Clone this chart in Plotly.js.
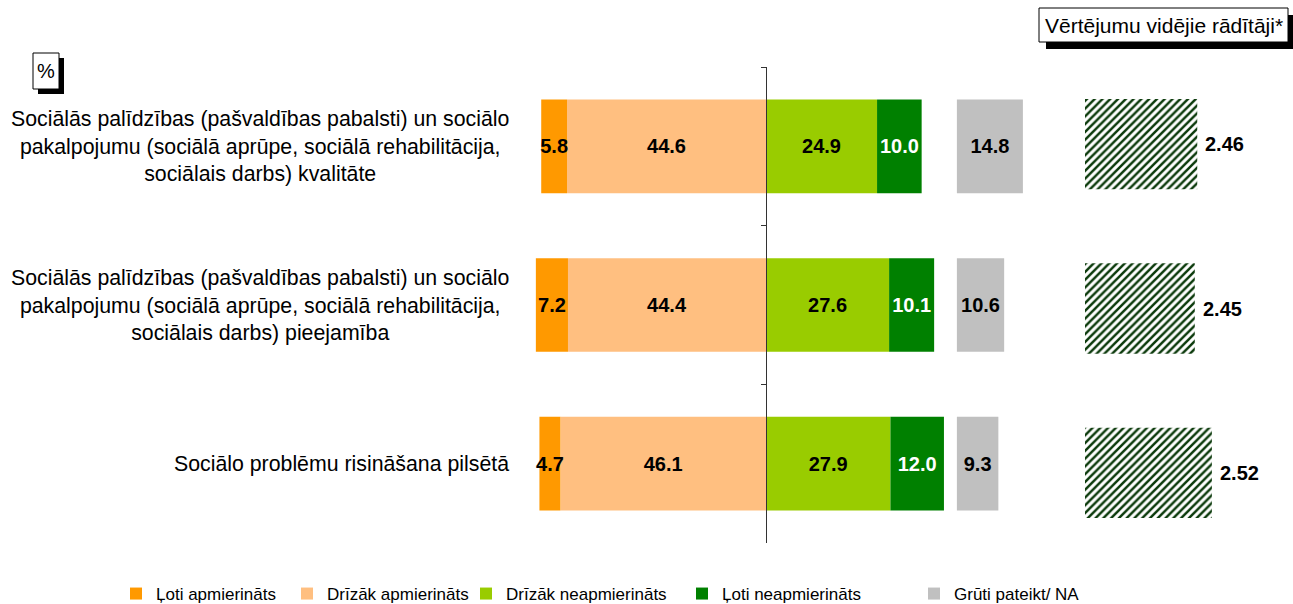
<!DOCTYPE html>
<html>
<head>
<meta charset="utf-8">
<script src="https://cdn.plot.ly/plotly-3.0.1.min.js"></script>
<style>html,body{margin:0;padding:0;background:#fff;}#chart{width:1293px;height:604px;}</style>
</head>
<body>
<div id="chart"></div>
<script>
// ---- data ----
const categories = [
  "Sociālās palīdzības (pašvaldības pabalsti) un sociālo<br>pakalpojumu (sociālā aprūpe, sociālā rehabilitācija,<br>sociālais darbs) kvalitāte",
  "Sociālās palīdzības (pašvaldības pabalsti) un sociālo<br>pakalpojumu (sociālā aprūpe, sociālā rehabilitācija,<br>sociālais darbs) pieejamība",
  "Sociālo problēmu risināšana pilsētā"
];
const seriesNames = ["Ļoti apmierināts", "Drīzāk apmierināts", "Drīzāk neapmierināts", "Ļoti neapmierināts", "Grūti pateikt/ NA"];
const lotiApmierinats = [5.8, 7.2, 4.7];
const drizakApmierinats = [44.6, 44.4, 46.1];
const drizakNeapmierinats = [24.9, 27.6, 27.9];
const lotiNeapmierinats = [10.0, 10.1, 12.0];
const grutiPateikt = [14.8, 10.6, 9.3];
const averages = [2.46, 2.45, 2.52];
const averagesTitle = "Vērtējumu vidējie rādītāji*";
const unitLabel = "%";

// ---- layout constants ----
const W = 1293, H = 604;
const FONT = "Arial, 'Liberation Sans', sans-serif";
const GRAY_OFFSET = 42.8;
const colors = ["#FF9900", "#FFBF80", "#99CC00", "#008000", "#C0C0C0"];
const px = v => v / W;
const py = v => 1 - v / H;

const ids = categories.map((c, i) => "c" + i);
const fmt = arr => arr.map(v => v.toFixed(1));
const common = {
  type: "bar", orientation: "h", y: ids, width: 0.59,
  textposition: "inside", insidetextanchor: "middle", constraintext: "none",
  textangle: 0, texttemplate: "%{text}", hoverinfo: "skip",
  textfont: {family: FONT, size: 20, color: "#000", weight: "bold"}
};

const traces = [
  Object.assign({}, common, {name: seriesNames[1], x: drizakApmierinats.map(v => -v), text: fmt(drizakApmierinats),
    marker: {color: colors[1]}, legend: "legend2", xaxis: "x", yaxis: "y"}),
  Object.assign({}, common, {name: seriesNames[0], x: lotiApmierinats.map(v => -v), text: fmt(lotiApmierinats),
    marker: {color: colors[0]}, legend: "legend", xaxis: "x", yaxis: "y"}),
  Object.assign({}, common, {name: seriesNames[2], x: drizakNeapmierinats, text: fmt(drizakNeapmierinats),
    marker: {color: colors[2]}, legend: "legend3", xaxis: "x", yaxis: "y"}),
  Object.assign({}, common, {name: seriesNames[3], x: lotiNeapmierinats, text: fmt(lotiNeapmierinats),
    marker: {color: colors[3]}, legend: "legend4", xaxis: "x", yaxis: "y",
    textfont: {family: FONT, size: 20, color: "#fff", weight: "bold"}}),
  Object.assign({}, common, {name: seriesNames[4], x: grutiPateikt, base: GRAY_OFFSET, text: fmt(grutiPateikt),
    marker: {color: colors[4]}, legend: "legend5", xaxis: "x3", yaxis: "y"}),
  {
    type: "bar", orientation: "h", y: ids, x: averages, width: 0.55, showlegend: false,
    xaxis: "x2", yaxis: "y2", hoverinfo: "skip",
    marker: {color: "#ffffff", line: {width: 0},
      pattern: {shape: "/", fgcolor: "#0b3a0b", bgcolor: "#ffffff", size: 5.5, solidity: 0.45}}
  }
];

const mainDomainX = [px(766 - 60 * 4.46), px(766 + 60 * 4.46)];

const annotations = categories.map((c, i) => ({
  xref: "paper", yref: "y", x: px(511), y: ids[i], xanchor: "right", yanchor: "middle",
  align: "center", showarrow: false, text: c,
  font: {family: FONT, size: 21.3, color: "#000"}
}));
averages.forEach((v, i) => annotations.push({
  xref: "x2", yref: "y2", x: v, y: ids[i], xanchor: "left", yanchor: "middle", xshift: 6,
  showarrow: false, text: v.toFixed(2), font: {family: FONT, size: 20, color: "#000", weight: "bold"}
}));
annotations.push({xref: "paper", yref: "paper", x: px(1163.5), y: py(25.5), xanchor: "center", yanchor: "middle",
  showarrow: false, text: averagesTitle, font: {family: FONT, size: 21, color: "#000"}});
annotations.push({xref: "paper", yref: "paper", x: px(46), y: py(71), xanchor: "center", yanchor: "middle",
  showarrow: false, text: unitLabel, font: {family: FONT, size: 20, color: "#000"}});

function boxWithShadow(x0, y0, x1, y1, off) {
  return [
    {type: "rect", xref: "paper", yref: "paper", x0: px(x0 + off), x1: px(x1 + off), y0: py(y0 + off), y1: py(y1 + off),
      fillcolor: "#000", line: {width: 0}, layer: "above"},
    {type: "rect", xref: "paper", yref: "paper", x0: px(x0), x1: px(x1), y0: py(y0), y1: py(y1),
      fillcolor: "#fff", line: {color: "#000", width: 1}, layer: "above"}
  ];
}
const shapes = [].concat(boxWithShadow(1039, 8, 1288, 42, 7), boxWithShadow(33, 53, 59, 89, 5));

const legendBase = {orientation: "h", y: py(594), xanchor: "left", yanchor: "middle",
  font: {family: FONT, size: 17, color: "#000"}, bgcolor: "rgba(0,0,0,0)", itemclick: false, itemdoubleclick: false};
const legendX = [116, 287, 466, 682, 914];

const layout = {
  width: W, height: H,
  margin: {l: 0, r: 0, t: 0, b: 0, pad: 0, autoexpand: false},
  paper_bgcolor: "#fff", plot_bgcolor: "rgba(0,0,0,0)",
  barmode: "relative",
  font: {family: FONT, size: 16, color: "#000"},
  showlegend: true,
  legend: Object.assign({}, legendBase, {x: px(legendX[0])}),
  legend2: Object.assign({}, legendBase, {x: px(legendX[1])}),
  legend3: Object.assign({}, legendBase, {x: px(legendX[2])}),
  legend4: Object.assign({}, legendBase, {x: px(legendX[3])}),
  legend5: Object.assign({}, legendBase, {x: px(legendX[4])}),
  xaxis: {domain: mainDomainX, range: [-60, 60], visible: false, fixedrange: true},
  xaxis3: {overlaying: "x", range: [-60, 60], visible: false, anchor: "y"},
  yaxis: {domain: [py(543), py(67)], range: [2.5, -0.5], type: "category",
    anchor: "free", position: px(766), showline: true, linecolor: "#333", linewidth: 1,
    ticks: "outside", tickson: "boundaries", ticklen: 5, tickcolor: "#333",
    showticklabels: false, showgrid: false, zeroline: false},
  xaxis2: {domain: [px(1085), px(1085 + 244 * 0.8)], range: [2, 2.8], visible: false, anchor: "y2"},
  yaxis2: {domain: [py(555), py(62)], range: [2.5, -0.5], type: "category", visible: false, anchor: "x2"},
  annotations: annotations,
  shapes: shapes
};

Plotly.newPlot("chart", traces, layout, {staticPlot: true, displayModeBar: false});
</script>
</body>
</html>
